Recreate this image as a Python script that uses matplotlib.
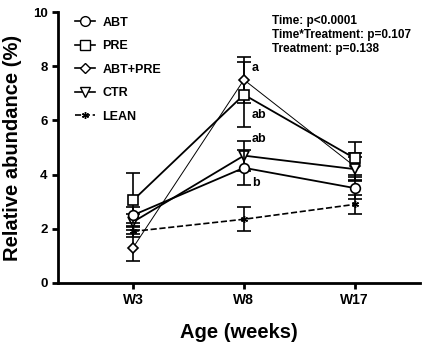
import matplotlib
matplotlib.use("Agg")
import matplotlib.pyplot as plt
from matplotlib.lines import Line2D

plt.rcParams['font.family'] = ['Liberation Sans', 'DejaVu Sans']
plt.rcParams['font.weight'] = 'bold'

categories = ["W3", "W8", "W17"]
abt = [2.5, 4.25, 3.5]
abt_err = [0.3, 0.65, 0.4]
pre = [3.05, 6.95, 4.6]
pre_err = [1.0, 1.2, 0.6]
abtpre = [1.3, 7.5, 4.3]
abtpre_err = [0.5, 0.85, 0.5]
ctr = [2.25, 4.7, 4.2]
ctr_err = [0.3, 0.55, 0.45]
lean = [1.9, 2.35, 2.9]
lean_err = [0.2, 0.45, 0.35]

letters = [("a", 1, 7.95), ("ab", 1, 6.2), ("ab", 1, 5.3), ("b", 1, 3.7)]
stats_text = ["Time: p<0.0001", "Time*Treatment: p=0.107", "Treatment: p=0.138"]

fig = plt.figure(figsize=(4.24, 3.45), dpi=100)
ax = fig.add_axes([0.137, 0.180, 0.853, 0.785])
x = list(range(len(categories)))

common = dict(color='black', capsize=5, elinewidth=1.2, capthick=1.2, markerfacecolor='white',
              markeredgecolor='black', markeredgewidth=1.2)
ax.errorbar(x, lean, yerr=lean_err, fmt='--', marker=(6, 2, 0), markersize=5, lw=1.2,
            label='LEAN', color='black', capsize=5, elinewidth=1.2, capthick=1.2, zorder=2)
ax.errorbar(x, abtpre, yerr=abtpre_err, fmt='-', marker='D', markersize=5.5, lw=0.7, label='ABT+PRE', zorder=3, **common)
ax.errorbar(x, pre, yerr=pre_err, fmt='-', marker='s', markersize=7, lw=1.3, label='PRE', zorder=3, **common)
ax.errorbar(x, ctr, yerr=ctr_err, fmt='-', marker='v', markersize=7, lw=1.3, label='CTR', zorder=3, **common)
ax.errorbar(x, abt, yerr=abt_err, fmt='-', marker='o', markersize=7, lw=1.3, label='ABT', zorder=4, **common)

for txt, xi, yi in letters:
    ax.text(xi + 0.07, yi, txt, fontsize=9, fontweight='bold', ha='left', va='center')

for i, t in enumerate(stats_text):
    ax.text(0.592, 0.99 - i * 0.052, t, transform=ax.transAxes, fontsize=8.5,
            fontweight='bold', ha='left', va='top')

handles = [
    Line2D([], [], color='black', lw=1.2, marker='o', markersize=7, markerfacecolor='white', label='ABT'),
    Line2D([], [], color='black', lw=1.2, marker='s', markersize=7, markerfacecolor='white', label='PRE'),
    Line2D([], [], color='black', lw=1.2, marker='D', markersize=5.5, markerfacecolor='white', label='ABT+PRE'),
    Line2D([], [], color='black', lw=1.2, marker='v', markersize=7, markerfacecolor='white', label='CTR'),
    Line2D([], [], color='black', lw=1.2, ls='--', marker=(6, 2, 0), markersize=5, label='LEAN'),
]
ax.legend(handles=handles, loc='upper left', bbox_to_anchor=(0.015, 1.025), frameon=False,
          fontsize=9, handlelength=1.6, labelspacing=0.92, handletextpad=0.6)

ax.set_xlim(-0.676, 2.586)
ax.set_ylim(0, 10)
ax.set_xticks(x)
ax.set_xticklabels(categories, fontsize=10, fontweight='bold')
ax.set_yticks([0, 2, 4, 6, 8, 10])
ax.set_yticklabels(['0', '2', '4', '6', '8', '10'], fontsize=9.5, fontweight='bold')
ax.set_ylabel('Relative abundance (%)', fontsize=14.5, fontweight='bold', labelpad=8)
ax.set_xlabel('Age (weeks)', fontsize=14.5, fontweight='bold', labelpad=11)
for s in ['top', 'right']:
    ax.spines[s].set_visible(False)
for s in ['left', 'bottom']:
    ax.spines[s].set_linewidth(2)
ax.tick_params(width=2, length=4, direction='out')

fig.savefig('out.png', dpi=100)
